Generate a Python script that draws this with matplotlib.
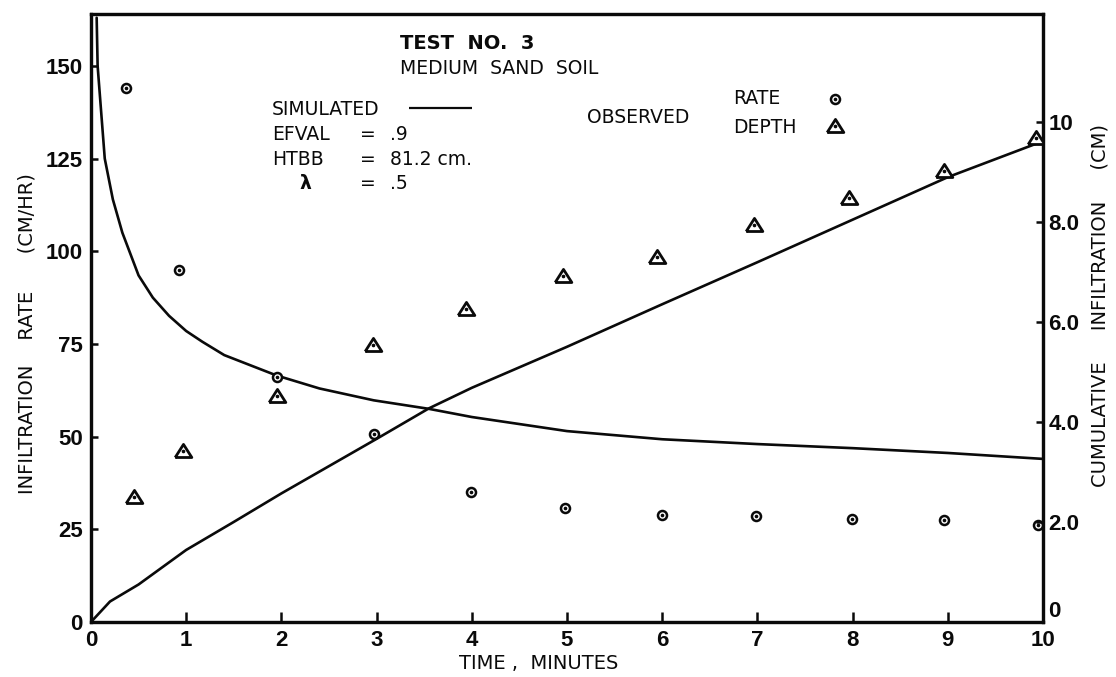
import matplotlib
matplotlib.use("Agg")
import matplotlib.pyplot as plt

# Observed infiltration rate (cm/hr) against time (minutes)
rate_time = [0.37, 0.92, 1.95, 2.97, 3.99, 4.98, 6.00, 6.99, 7.99, 8.96, 9.95]
rate_obs = [144.0, 95.0, 66.0, 50.7, 35.0, 30.8, 29.0, 28.7, 27.8, 27.4, 26.3]

# Observed cumulative infiltration depth (cm)
depth_time = [0.45, 0.97, 1.95, 2.96, 3.94, 4.96, 5.95, 6.96, 7.96, 8.96, 9.93]
depth_obs = [2.50, 3.42, 4.52, 5.54, 6.26, 6.92, 7.29, 7.94, 8.48, 9.01, 9.67]

# Simulated infiltration rate (cm/hr)
sim_rate_time = [0.06, 0.07, 0.145, 0.23, 0.33, 0.50, 0.65, 0.82, 1.00, 1.17,
                 1.40, 1.95, 2.40, 2.97, 3.55, 4.00, 5.00, 6.00, 7.00, 8.00,
                 9.00, 10.00]
sim_rate = [163.0, 150.0, 125.0, 114.0, 105.0, 93.5, 87.5, 82.6, 78.5, 75.6,
            72.0, 66.5, 63.0, 59.8, 57.5, 55.3, 51.5, 49.3, 48.0, 46.9,
            45.6, 44.0]

# Simulated cumulative infiltration (cm)
sim_depth_time = [0.0, 0.2, 0.5, 1.0, 1.5, 2.0, 3.0, 3.55, 4.0, 5.0, 6.0,
                  7.0, 8.0, 9.0, 10.0]
sim_depth = [0.0, 0.41, 0.75, 1.44, 2.0, 2.57, 3.66, 4.27, 4.68, 5.5, 6.35,
             7.19, 8.04, 8.89, 9.61]

x_ticks = [0, 1, 2, 3, 4, 5, 6, 7, 8, 9, 10]
rate_ticks = [0, 25, 50, 75, 100, 125, 150]
depth_ticks = [0, 2, 4, 6, 8, 10]
depth_tick_labels = ["0", "2.0", "4.0", "6.0", "8.0", "10"]

plt.rcParams["font.family"] = ["DejaVu Sans"]
tickfont = ["Liberation Sans", "DejaVu Sans"]
INK = "#0a0a0a"

fig = plt.figure(figsize=(11.16, 6.77), dpi=100, facecolor="white")
ax = fig.add_axes([0.0815, 0.0812, 0.8531, 0.8981])
ax2 = ax.twinx()

ax.set_xlim(0, 10)
ax.set_ylim(0, 164)
ax2.set_ylim(0, 12.15)

# simulated curves
ax.plot(sim_rate_time, sim_rate, color=INK, lw=1.9, solid_capstyle="round",
        solid_joinstyle="round", zorder=3)
ax2.plot(sim_depth_time, sim_depth, color=INK, lw=1.9, solid_capstyle="round",
         solid_joinstyle="round", zorder=3)

# observed rate: dotted circle
ax.plot(rate_time, rate_obs, ls="none", marker="o", ms=6.5, mfc="white",
        mec=INK, mew=1.8, zorder=4)
ax.plot(rate_time, rate_obs, ls="none", marker="o", ms=1.6, color=INK,
        zorder=5)

# observed depth: dotted triangle
tri = [(-1, -0.72), (1, -0.72), (0, 0.85), (-1, -0.72)]
ax2.plot(depth_time, depth_obs, ls="none", marker=tri, ms=12, mfc="white",
         mec=INK, mew=2.0, zorder=4)
ax2.plot(depth_time, depth_obs, ls="none", marker="o", ms=1.6, color=INK,
         zorder=5)

# frame and ticks
for a in (ax, ax2):
    for s in a.spines.values():
        s.set_linewidth(2.3)
        s.set_color(INK)
ax.set_xticks(x_ticks)
ax.set_xticklabels([str(t) for t in x_ticks])
ax.set_yticks(rate_ticks)
ax.set_yticklabels([str(t) for t in rate_ticks])
ax2.set_yticks(depth_ticks)
ax2.set_yticklabels(depth_tick_labels)

ax.tick_params(axis="x", direction="in", length=7, width=1.8, pad=6,
               labelsize=16, colors=INK, labelfontfamily=tickfont)
ax.tick_params(axis="y", direction="in", length=5, width=1.8, pad=6,
               labelsize=16, colors=INK, labelfontfamily=tickfont)
ax2.tick_params(axis="y", direction="in", length=5, width=1.8, pad=4,
                labelsize=16, colors=INK, labelfontfamily=tickfont)
for lbl in ax.get_xticklabels() + ax.get_yticklabels() + ax2.get_yticklabels():
    lbl.set_fontweight("bold")
# the right-hand zero sits just above the corner
ax2.get_yticklabels()[0].set_verticalalignment("bottom")

# axis titles
ax.set_xlabel("TIME ,  MINUTES", fontsize=14, color=INK)
ax.xaxis.set_label_coords(0.47, -0.052)
ax.set_ylabel("INFILTRATION    RATE      (CM/HR)", fontsize=14, color=INK)
ax.yaxis.set_label_coords(-0.057, 0.475)
ax2.set_ylabel("CUMULATIVE     INFILTRATION     (CM)", fontsize=14, color=INK,
               rotation=90)
ax2.yaxis.set_label_coords(1.05, 0.52)

# key block
fs = 13.5
ax.text(3.25, 156.1, "TEST  NO.  3", fontsize=14, fontweight="bold",
        va="center", ha="left", color=INK)
ax.text(3.25, 149.2, "MEDIUM  SAND  SOIL", fontsize=fs, va="center",
        ha="left", color=INK)
ax.text(1.90, 138.3, "SIMULATED", fontsize=fs, va="center", ha="left",
        color=INK)
ax.hlines(138.6, 3.34, 4.0, color=INK, lw=1.6)
ax.text(1.90, 131.4, "EFVAL", fontsize=fs, va="center", ha="left", color=INK)
ax.text(1.90, 124.8, "HTBB", fontsize=fs, va="center", ha="left", color=INK)
ax.text(2.19, 118.4, "λ", fontsize=fs, va="center", ha="left", color=INK,
        fontweight="bold")
for yy in (131.4, 124.8, 118.4):
    ax.text(2.91, yy, "=", fontsize=fs, va="center", ha="center", color=INK)
ax.text(3.14, 131.4, ".9", fontsize=fs, va="center", ha="left", color=INK)
ax.text(3.14, 124.8, "81.2 cm.", fontsize=fs, va="center", ha="left",
        color=INK)
ax.text(3.14, 118.4, ".5", fontsize=fs, va="center", ha="left", color=INK)

ax.text(5.21, 136.2, "OBSERVED", fontsize=fs, va="center", ha="left",
        color=INK)
ax.text(6.74, 141.2, "RATE", fontsize=fs, va="center", ha="left", color=INK)
ax.text(6.74, 133.5, "DEPTH", fontsize=fs, va="center", ha="left", color=INK)
ax.plot([7.81], [141.2], ls="none", marker="o", ms=6.5, mfc="white", mec=INK,
        mew=1.8)
ax.plot([7.81], [141.2], ls="none", marker="o", ms=1.6, color=INK)
ax.plot([7.81], [133.9], ls="none", marker=tri, ms=12, mfc="white", mec=INK,
        mew=2.0)
ax.plot([7.81], [133.9], ls="none", marker="o", ms=1.6, color=INK)

fig.savefig("out.png", dpi=100, facecolor="white")
